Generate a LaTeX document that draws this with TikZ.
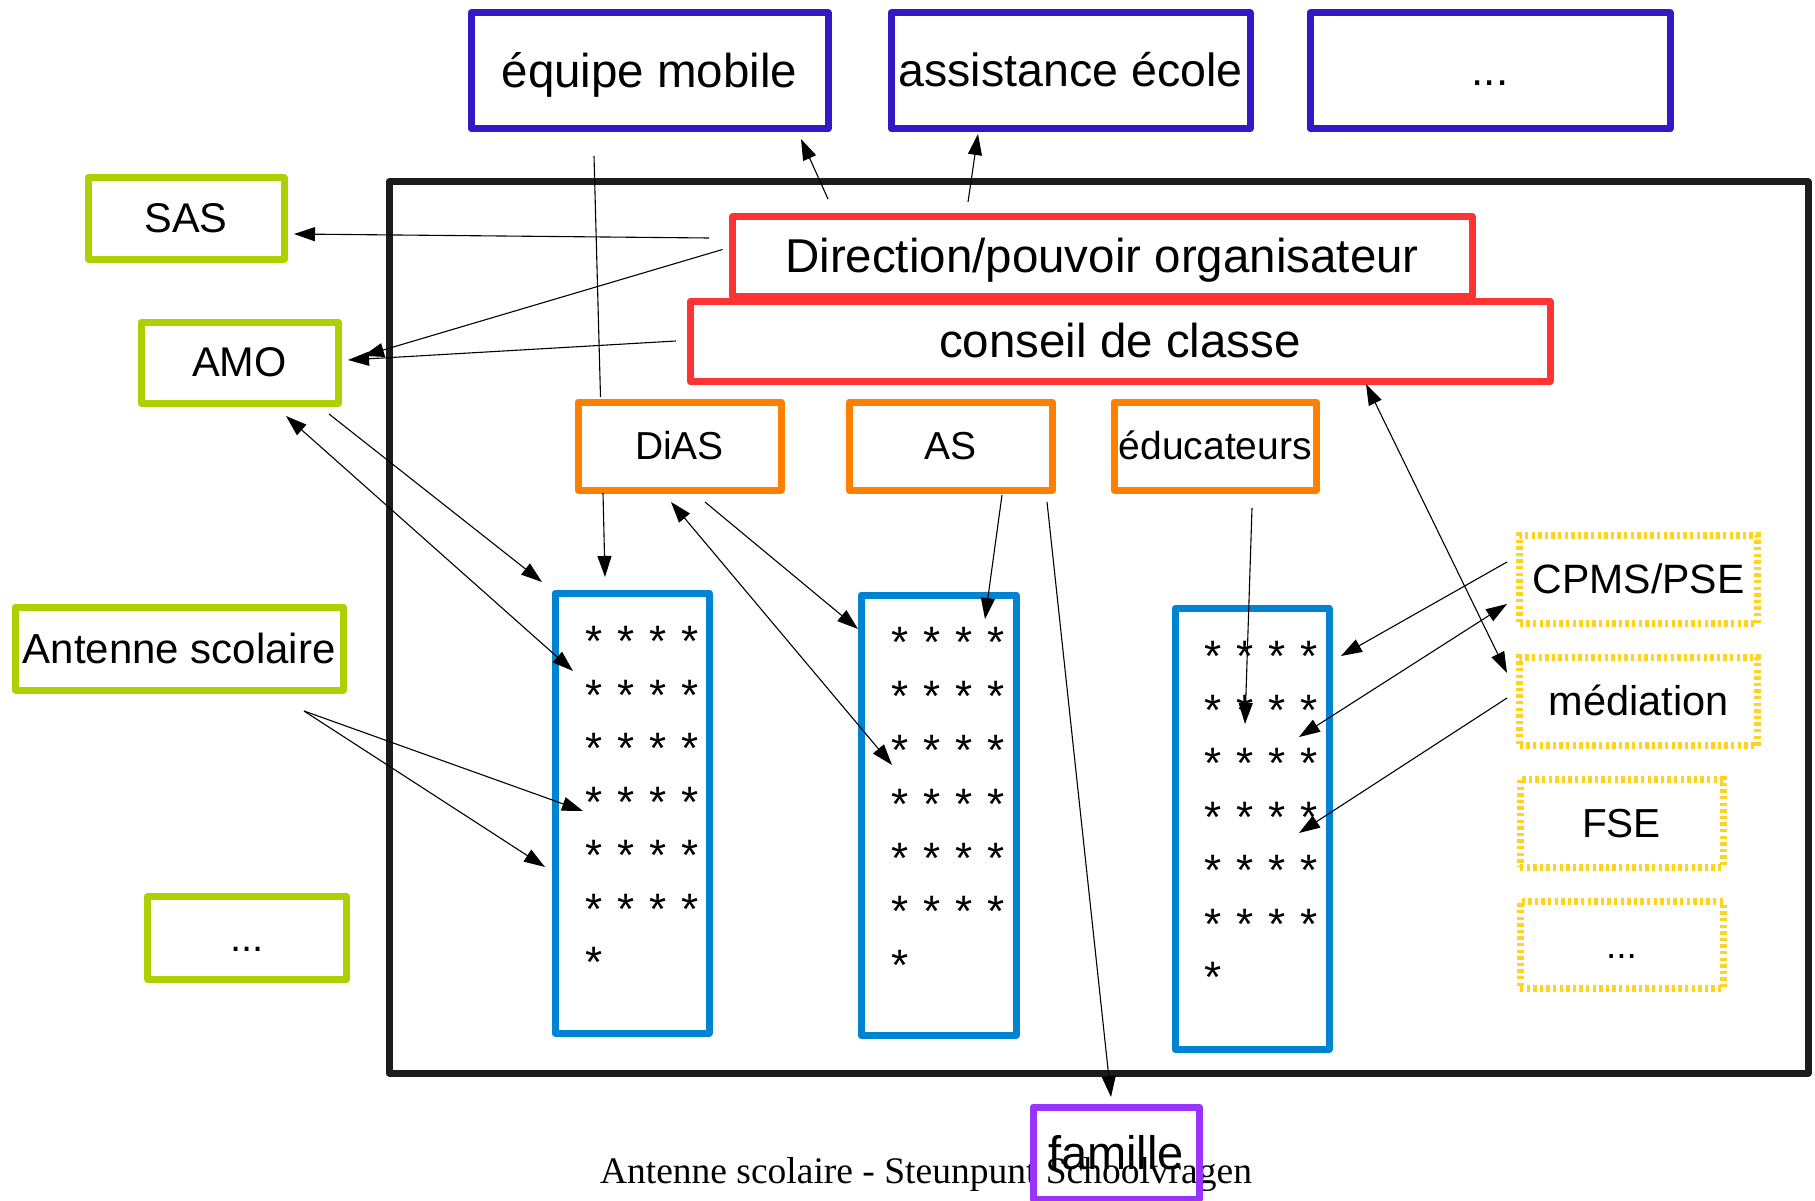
\documentclass[tikz,border=0pt]{standalone}
\usepackage{fontspec}
\setmainfont{Liberation Sans}
\newfontfamily\footfont{Liberation Serif}
\usetikzlibrary{arrows.meta}
\definecolor{cTop}{HTML}{3318C6}
\definecolor{cGreen}{HTML}{AECF00}
\definecolor{cRed}{HTML}{FF3333}
\definecolor{cOrange}{HTML}{FF8000}
\definecolor{cBlue}{HTML}{0084D1}
\definecolor{cYellow}{HTML}{FFD320}
\definecolor{cPurple}{HTML}{9933FF}
\definecolor{cFrame}{HTML}{1C1C1C}
\newcommand{\starfont}{\fontsize{44pt}{44pt}\selectfont\spaceskip=14.9pt\relax}
\begin{document}
\begin{tikzpicture}[x=1pt,y=-1pt,
  fs/.code={\pgfmathsetmacro\fsH{0.905*#1}\pgfmathsetmacro\fsD{0.212*#1}%
    \edef\fsTmp{\noexpand\tikzset{text height=\fsH pt, text depth=\fsD pt}}\fsTmp
    \tikzset{font={\fontsize{#1pt}{#1pt}\selectfont}}},
  box/.style={draw, line width=7pt, line join=round, inner sep=0pt, outer sep=0pt, align=center},
  topbox/.style={box, draw=cTop, minimum height=115.5pt},
  greenbox/.style={box, draw=cGreen},
  redbox/.style={box, draw=cRed, minimum height=80pt},
  orangebox/.style={box, draw=cOrange, minimum width=203pt, minimum height=88pt, fs=39},
  bluebox/.style={box, draw=cBlue, minimum width=154pt, minimum height=440pt},
  yellowbox/.style={box, draw=cYellow, dash pattern=on 3.4pt off 3.2pt, line join=miter},
  starrow/.style={font={\starfont}, anchor=base, inner sep=0pt},
  conn/.style={line width=1.1pt, -{Triangle[length=21pt,width=14pt]}},
  biconn/.style={line width=1.1pt, {Triangle[length=21pt,width=14pt]}-{Triangle[length=21pt,width=14pt]}},
  plain/.style={line width=1.1pt}
]
\useasboundingbox (0,0) rectangle (1815,1201);

% outer frame
\node[draw=cFrame, line width=7pt, line join=round, inner sep=0pt, minimum width=1419pt, minimum height=891pt] (school) at (1098.5,627.5) {};

% footer
\node[font={\footfont\fontsize{37.5pt}{37.5pt}\selectfont}, anchor=base, inner sep=0pt] (footer) at (926,1183) {Antenne scolaire - Steunpunt Schoolvragen};

% top boxes
\node[topbox, minimum width=357pt, fs=47.5] (equipe) at (649.5,70.75) {équipe mobile};
\node[topbox, minimum width=359pt, fs=46.5] (assist) at (1070.5,70.75) {assistance école};
\node[topbox, minimum width=360pt, fs=44] (topdots) at (1490,70.75) {...};

% green boxes
\node[greenbox, minimum width=196pt, minimum height=81pt, fs=41.5] (sas) at (186,218.5) {SAS};
\node[greenbox, minimum width=197pt, minimum height=81pt, fs=41.5] (amo) at (239.5,362.5) {AMO};
\node[greenbox, minimum width=327.5pt, minimum height=83pt, fs=42] (antenne) at (179.25,648.5) {Antenne scolaire};
\node[greenbox, minimum width=199pt, minimum height=82.7pt, fs=40] (gdots) at (247,937.7) {...};

% red boxes
\node[redbox, minimum width=740pt, fs=47.5] (direction) at (1102,256.5) {Direction/pouvoir organisateur};
\node[redbox, minimum width=860pt, fs=47.5] (conseil) at (1120,341.5) {conseil de classe};

% orange boxes
\node[orangebox] (dias) at (679.5,446) {DiAS};
\node[orangebox] (as) at (950.5,446) {AS};
\node[orangebox, minimum width=202.5pt] (educ) at (1215.25,446) {éducateurs};

% blue boxes
\node[bluebox] (blueA) at (632,813) {};
\node[bluebox, minimum width=155pt] (blueB) at (938.5,815) {};
\node[bluebox, minimum height=441pt] (blueC) at (1252,829) {};

% stars
\foreach \i in {0,...,5} {
  \pgfmathsetmacro\ya{632+24.8+53.5*\i}
  \pgfmathsetmacro\yb{633+24.8+53.8*\i}
  \pgfmathsetmacro\yc{647+24.8+53.5*\i}
  \node[starrow] (sa\i) at (642,\ya) {* * * *};
  \node[starrow] (sb\i) at (948,\yb) {* * * *};
  \node[starrow] (sc\i) at (1261.5,\yc) {* * * *};
}
\node[starrow] (sa6) at (594,977.8) {*};
\node[starrow] (sb6) at (900,980.6) {*};
\node[starrow] (sc6) at (1213,992.8) {*};

% yellow boxes
\node[yellowbox, minimum width=237.5pt, minimum height=88pt, fs=41] (cpms) at (1638.5,579) {CPMS/PSE};
\node[yellowbox, minimum width=237.5pt, minimum height=88.5pt, fs=41.5] (mediation) at (1638.5,701.5) {médiation};
\node[yellowbox, minimum width=203pt, minimum height=88pt, fs=40.5] (fse) at (1621.5,823) {FSE};
\node[yellowbox, minimum width=203pt, minimum height=87.3pt, fs=37] (ydots) at (1621.5,945.3) {...};

% famille
\node[box, draw=cPurple, minimum width=166pt, minimum height=92pt, fs=47] (famille) at (1116,1153) {famille};

% connector end points
\coordinate (dirA) at (828,199);   \coordinate (eqT) at (801,139);
\coordinate (dirB) at (968,202);   \coordinate (asT) at (978,134);
\coordinate (dirC) at (709,238);   \coordinate (sasT) at (294,234);
\coordinate (dirD) at (722.5,249.5); \coordinate (amoT1) at (363,356);
\coordinate (conA) at (676,341);   \coordinate (amoT2) at (348,360);
\coordinate (eqB) at (594,156);    \coordinate (diasTop) at (600.5,397);
\coordinate (amoA) at (329,414);   \coordinate (bAT1) at (542,582);
\coordinate (amoB) at (286,416);   \coordinate (bAT2) at (573,671);
\coordinate (antA) at (304,711);   \coordinate (bAT3) at (583,811);
\coordinate (bAT4) at (545,867);
\coordinate (diasA) at (603,493);  \coordinate (bAT5) at (605,577);
\coordinate (diasB) at (671,502);  \coordinate (bBT1) at (892,765);
\coordinate (diasC) at (705,502);  \coordinate (bBT2) at (858,629);
\coordinate (asA) at (1002,495);   \coordinate (bBT3) at (985,619);
\coordinate (asB) at (1047,502);   \coordinate (famT) at (1111,1097);
\coordinate (educA) at (1252,508); \coordinate (bCT1) at (1245,724);
\coordinate (conB) at (1366,384);  \coordinate (medT) at (1507,673);
\coordinate (cpmsA) at (1507,562); \coordinate (bCT2) at (1341,656);
\coordinate (bCT3) at (1299,737);  \coordinate (cpmsB) at (1507,604);
\coordinate (medA) at (1507,698);  \coordinate (bCT4) at (1299,833);

% connectors
\draw[conn] (dirA) -- (eqT);
\draw[conn] (dirB) -- (asT);
\draw[conn] (dirC) -- (sasT);
\draw[conn] (dirD) -- (amoT1);
\draw[conn] (conA) -- (amoT2);
\draw[plain] (eqB) -- (diasTop);
\draw[conn] (amoA) -- (bAT1);
\draw[biconn] (amoB) -- (bAT2);
\draw[conn] (antA) -- (bAT3);
\draw[conn] (antA) -- (bAT4);
\draw[conn] (diasA) -- (bAT5);
\draw[biconn] (diasB) -- (bBT1);
\draw[conn] (diasC) -- (bBT2);
\draw[conn] (asA) -- (bBT3);
\draw[conn] (asB) -- (famT);
\draw[conn] (educA) -- (bCT1);
\draw[biconn] (conB) -- (medT);
\draw[conn] (cpmsA) -- (bCT2);
\draw[biconn] (bCT3) -- (cpmsB);
\draw[conn] (medA) -- (bCT4);
\end{tikzpicture}
\end{document}
